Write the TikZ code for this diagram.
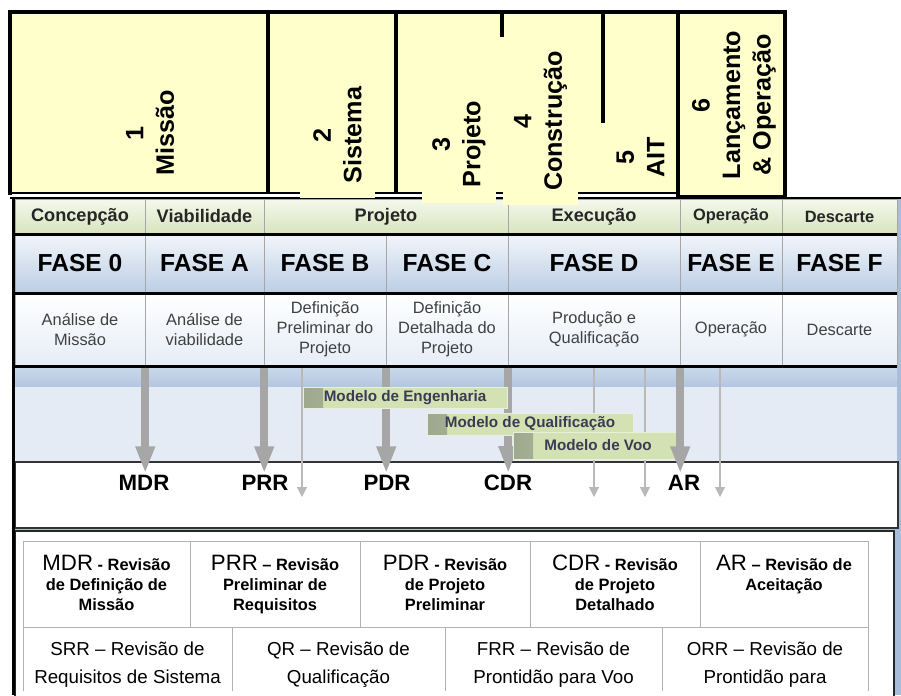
\documentclass[tikz,border=0pt]{standalone}
\usepackage{fontspec}
\setmainfont{Liberation Sans}
\usetikzlibrary{arrows.meta}
\definecolor{StageYellow}{HTML}{FFFFCC}
\definecolor{HeadTop}{HTML}{F5F8EC}
\definecolor{HeadBot}{HTML}{D8E4BE}
\definecolor{FaseTop}{HTML}{F2F6FB}
\definecolor{FaseBot}{HTML}{BBCDE4}
\definecolor{DescBot}{HTML}{E6EDF6}
\definecolor{BandDark}{HTML}{B4C7E1}
\definecolor{BandLight}{HTML}{E4EBF4}
\definecolor{ModelGreen}{HTML}{D3E2B3}
\definecolor{ModelShade}{HTML}{9DA88E}
\definecolor{ModelText}{HTML}{3B3B55}
\definecolor{EdgeBlue}{HTML}{A8BDDA}
\newcommand\acr[1]{{\fontsize{19}{17}\selectfont\mdseries #1}}

\begin{document}
\begin{tikzpicture}[x=0.03cm,y=-0.03cm,>=Latex]
    \tikzstyle{stage}=[rotate=90,align=center,inner sep=0pt,fill=StageYellow,font=\fontsize{21.5}{26}\selectfont\bfseries]
    \tikzstyle{head}=[draw=gray!70,minimum height=1.05cm,inner sep=0pt,top color=HeadTop,bottom color=HeadBot,text=black!85,font=\fontsize{15.5}{17}\selectfont\bfseries]
    \tikzstyle{fase}=[draw=gray!70,minimum height=1.77cm,inner sep=0pt,top color=FaseTop,bottom color=FaseBot,font=\fontsize{21}{23}\selectfont\bfseries]
    \tikzstyle{desc}=[draw=gray!70,minimum height=2.19cm,inner sep=0pt,align=center,top color=white,bottom color=DescBot,text=black!75,font=\fontsize{14}{17}\selectfont]
    \tikzstyle{model}=[draw=ModelGreen!50!white,inner sep=0pt,fill=ModelGreen,text=ModelText,font=\fontsize{13}{15}\selectfont\bfseries,
      path picture={\fill[left color=ModelShade,right color=ModelGreen] (path picture bounding box.south west) rectangle ([xshift=.6cm]path picture bounding box.north west);}]
    \tikzstyle{gate}=[inner sep=1.5pt,font=\fontsize{19}{21}\selectfont\bfseries]
    \tikzstyle{bigarrow}=[line width=6.5pt,draw=gray!70,-{Triangle[length=.81cm,width=.54cm]}]
    \tikzstyle{thinarrow}=[line width=1pt,draw=gray!55,-{Triangle[length=.3cm,width=.3cm]}]
    \tikzstyle{revtop}=[anchor=north,align=center,inner sep=0pt,font=\fontsize{14}{17}\selectfont\bfseries]
    \tikzstyle{revbot}=[align=center,inner sep=0pt,font=\fontsize{16}{24}\selectfont]
    \useasboundingbox (0,0) rectangle (901,695);

    % lower panel background
    \fill[EdgeBlue] (12,197) rectangle (901,695);
    \fill[BandLight] (15,366) rectangle (897,462);
    \shade[top color=BandDark!70!white,bottom color=BandDark] (15,367) rectangle (897,386);

    % phase table
    \node[head,minimum width=3.9cm]  (h0) at (80,216.5)    {Concepção};
    \node[head,minimum width=3.57cm] (hA) at (204.5,216.5) {Viabilidade};
    \node[head,minimum width=7.32cm] (hP) at (386,216.5)   {Projeto};
    \node[head,minimum width=5.16cm] (hD) at (594,216.5)   {Execução};
    \node[head,minimum width=3.06cm,font=\fontsize{14}{16}\selectfont\bfseries] (hE) at (731,216.5) {Operação};
    \node[head,minimum width=3.45cm,font=\fontsize{14}{16}\selectfont\bfseries] (hF) at (839.5,216.5) {Descarte};

    \node[fase,minimum width=3.9cm]  (f0) at (80,263.5)    {FASE 0};
    \node[fase,minimum width=3.57cm] (fA) at (204.5,263.5) {FASE A};
    \node[fase,minimum width=3.66cm] (fB) at (325,263.5)   {FASE B};
    \node[fase,minimum width=3.66cm] (fC) at (447,263.5)   {FASE C};
    \node[fase,minimum width=5.16cm] (fD) at (594,263.5)   {FASE D};
    \node[fase,minimum width=3.06cm] (fE) at (731,263.5)   {FASE E};
    \node[fase,minimum width=3.45cm] (fF) at (839.5,263.5) {FASE F};

    \node[desc,minimum width=3.9cm]  (d0) at (80,329.5)    {Análise de\\Missão};
    \node[desc,minimum width=3.57cm] (dA) at (204.5,329.5) {Análise de\\viabilidade};
    \node[desc,minimum width=3.66cm] (dB) at (325,329.5)   {Definição\\Preliminar do\\Projeto};
    \node[desc,minimum width=3.66cm] (dC) at (447,329.5)   {Definição\\Detalhada do\\Projeto};
    \node[desc,minimum width=5.16cm] (dD) at (594,329.5)   {Produção e\\Qualificação};
    \node[desc,minimum width=3.06cm] (dE) at (731,329.5)   {Operação};
    \node[desc,minimum width=3.45cm] (dF) at (839.5,329.5) {Descarte};

    \draw[line width=2.6pt] (h0.south west) -- (hF.south east);
    \draw[line width=2.6pt] (f0.south west) -- (fF.south east);
    \draw[line width=2.6pt] (d0.south west) -- (dF.south east);
    \draw[line width=2.4pt] (10,198) -- (901,198);

    % reviews strip
    \draw[gray!40!black,line width=1.2pt,fill=white] (15,462) rectangle (898,528);
    \foreach \x [count=\i] in {302,594,645,720}{
      \coordinate (tin\i) at (\x,368);
      \coordinate (tout\i) at (\x,497);
      \draw[thinarrow] (tin\i) -- (tout\i);
    }
    \node[gate] (mdr) at (144,483) {MDR};
    \node[gate] (prr) at (265,483) {PRR};
    \node[gate] (pdr) at (387,483) {PDR};
    \node[gate] (cdr) at (508,483) {CDR};
    \node[gate] (ar)  at (684,483) {AR};
    \draw[bigarrow] ([yshift=-1.5pt]d0.south east) -- (d0.south east |- mdr.north);
    \draw[bigarrow] ([yshift=-1.5pt]dA.south east) -- (dA.south east |- prr.north);
    \draw[bigarrow] ([yshift=-1.5pt]dB.south east) -- (dB.south east |- pdr.north);
    \draw[bigarrow] ([yshift=-1.5pt]dC.south east) -- (dC.south east |- cdr.north);

    \node[model,minimum width=6.12cm,minimum height=.63cm] (meng)  at (405,397.5) {Modelo de Engenharia};
    \node[model,minimum width=6.18cm,minimum height=.66cm] (mqual) at (530,424)   {Modelo de Qualificação};
    \node[model,minimum width=5.1cm,minimum height=.81cm]  (mvoo)  at (598,445.5) {Modelo de Voo};
    \draw[bigarrow] ([yshift=-1.5pt]dD.south east) -- (dD.south east |- ar.north);

    % legend of reviews
    \draw[gray!30!black,line width=1pt,fill=white] (15,531) rectangle (894,700);
    \draw[gray!60,line width=.8pt] (23,691) -- (23,541) -- (868,541) -- (868,691);
    \draw[gray!60,line width=.8pt] (23,627) -- (868,627);
    \foreach \x in {190,360,530,700} \draw[gray!60,line width=.8pt] (\x,541) -- (\x,627);
    \foreach \x in {232,445,662} \draw[gray!60,line width=.8pt] (\x,627) -- (\x,691);

    \node[revtop] (tmdr) at (106.5,555) {\acr{MDR} - Revisão\\de Definição de\\Missão};
    \node[revtop] (tprr) at (275,555)   {\acr{PRR} – Revisão\\Preliminar de\\Requisitos};
    \node[revtop] (tpdr) at (445,555)   {\acr{PDR} - Revisão\\de Projeto\\Preliminar};
    \node[revtop] (tcdr) at (615,555)   {\acr{CDR} - Revisão\\de Projeto\\Detalhado};
    \node[revtop] (tar)  at (784,555)   {\acr{AR} – Revisão de\\Aceitação};

    \node[revbot] (tsrr) at (127.5,665) {SRR – Revisão de\\Requisitos de Sistema};
    \node[revbot] (tqr)  at (338.5,665) {QR – Revisão de\\Qualificação};
    \node[revbot] (tfrr) at (553.5,665) {FRR – Revisão de\\Prontidão para Voo};
    \node[revbot] (torr) at (765,665)   {ORR – Revisão de\\Prontidão para};

    \draw[line width=3pt] (13.5,197) -- (13.5,695);

    % mission stages
    \fill[StageYellow] (10,12) rectangle (678,193);
    \draw[line width=1.7pt] (10,193) -- (678,193);
    \draw[line width=3pt] (10,195) -- (10,12) -- (785,12);
    \draw[line width=3pt] (268,12) -- (268,193);
    \draw[line width=3pt] (396,12) -- (396,193);
    \draw[line width=3pt] (502,12) -- (502,37);
    \draw[line width=3pt] (603,12) -- (603,123);

    \node[stage] (s1) at (150,133) {1\\Missão};
    \node[stage,minimum width=3.78cm,minimum height=2.25cm] (s2) at (337.5,135) {2\\Sistema};
    \node[stage,minimum width=3.54cm,minimum height=2.22cm] (s3) at (459,144) {3\\Projeto};
    \node[stage,minimum width=5.04cm,minimum height=2.25cm] (s4) at (540.5,121) {4\\Construção};
    \node[stage,minimum width=2.04cm,minimum height=2.25cm] (s5) at (640.5,157) {5\\AIT};
    \draw[line width=3.4pt,fill=StageYellow] (678,12) rectangle (785,197);
    \node[stage] (s6) at (734,105) {6\\Lançamento\\\& Operação};
\end{tikzpicture}
\end{document}
